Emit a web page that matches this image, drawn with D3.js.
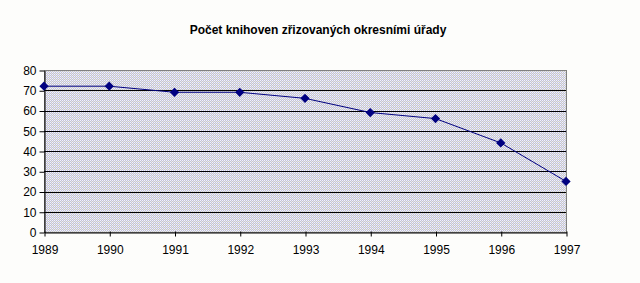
<!DOCTYPE html>
<html>
<head>
<meta charset="utf-8">
<script src="https://cdn.jsdelivr.net/npm/d3@7"></script>
<style>
  body { margin: 0; background: #ffffff; }
  svg { display: block; font-family: Arial, "Liberation Sans", sans-serif; }
</style>
</head>
<body>
<svg id="drawing_region"></svg>
<script>
const title = "Počet knihoven zřizovaných okresními úřady";
const years = ["1989", "1990", "1991", "1992", "1993", "1994", "1995", "1996", "1997"];
const counts = [72, 72, 69, 69, 66, 59, 56, 44, 25];
const yTicks = [0, 10, 20, 30, 40, 50, 60, 70, 80];

const config = {
    width: 640,
    height: 283,
    margin: {top: 70, right: 74, bottom: 51, left: 44}
};

const svg = d3.select('#drawing_region')
    .attr('width', config.width)
    .attr('height', config.height);

// checker dither inside the plot area
const defs = svg.append('defs');
const plotPat = defs.append('pattern')
    .attr('id', 'plotdots')
    .attr('width', 2).attr('height', 2)
    .attr('patternUnits', 'userSpaceOnUse');
plotPat.append('rect').attr('width', 2).attr('height', 2).attr('fill', '#bebee2');
plotPat.append('rect').attr('x', 0).attr('y', 0).attr('width', 1).attr('height', 1).attr('fill', '#f6f6f6');
plotPat.append('rect').attr('x', 1).attr('y', 1).attr('width', 1).attr('height', 1).attr('fill', '#eeeed0');

svg.append('rect')
    .attr('width', config.width)
    .attr('height', config.height)
    .attr('fill', '#fdfdfb');

const innerWidth = config.width - config.margin.left - config.margin.right;
const innerHeight = config.height - config.margin.top - config.margin.bottom;

const chart = svg.append('g')
    .attr('transform', `translate(${config.margin.left}, ${config.margin.top})`);

const xscale = d3.scalePoint()
    .domain(years)
    .range([0, innerWidth]);

const yscale = d3.scaleLinear()
    .domain([0, 80])
    .range([innerHeight, 0]);

// plot area
chart.append('rect')
    .attr('x', 0.5)
    .attr('y', 0.5)
    .attr('width', innerWidth)
    .attr('height', innerHeight)
    .attr('fill', 'url(#plotdots)')
    .attr('stroke', '#808080')
    .attr('stroke-width', 1);

// gridlines
chart.selectAll('.grid')
    .data(yTicks.slice(1, -1))
    .enter()
    .append('line')
    .attr('x1', 0)
    .attr('x2', innerWidth)
    .attr('y1', d => Math.round(yscale(d)) + 0.5)
    .attr('y2', d => Math.round(yscale(d)) + 0.5)
    .attr('stroke', '#000000')
    .attr('stroke-width', 1);

// axes
const xaxis = d3.axisBottom(xscale)
    .tickSize(5)
    .tickSizeOuter(0)
    .tickPadding(8);

const yaxis = d3.axisLeft(yscale)
    .tickValues(yTicks)
    .tickSize(5)
    .tickSizeOuter(0)
    .tickPadding(3);

const xg = chart.append('g')
    .attr('transform', `translate(0.5, ${innerHeight + 0.5})`)
    .call(xaxis);
xg.selectAll('.tick line').attr('y1', -1).attr('y2', 4);

const yg = chart.append('g')
    .attr('transform', `translate(0.5, 0.5)`)
    .call(yaxis);

[xg, yg].forEach(g => {
    g.select('.domain').attr('stroke', '#000000');
    g.selectAll('.tick line').attr('stroke', '#000000');
    g.selectAll('text')
        .attr('fill', '#000000')
        .attr('font-size', '12px')
        .attr('font-family', 'Arial, "Liberation Sans", sans-serif');
});

// data line
const line = d3.line()
    .x((d, i) => xscale(years[i]))
    .y(d => yscale(d));

chart.append('path')
    .attr('d', line(counts))
    .attr('fill', 'none')
    .attr('stroke', '#000080')
    .attr('stroke-width', 1);

const diamond = d3.symbol().type(d3.symbolDiamond2).size(55);

chart.selectAll('.pt')
    .data(counts)
    .enter()
    .append('path')
    .attr('d', diamond)
    .attr('transform', (d, i) => `translate(${xscale(years[i])}, ${yscale(d)})`)
    .attr('fill', '#000080');

// title
svg.append('text')
    .attr('x', 318)
    .attr('y', 34)
    .attr('text-anchor', 'middle')
    .attr('font-size', '12px')
    .attr('font-weight', 'bold')
    .attr('fill', '#000000')
    .text(title);
</script>
</body>
</html>
